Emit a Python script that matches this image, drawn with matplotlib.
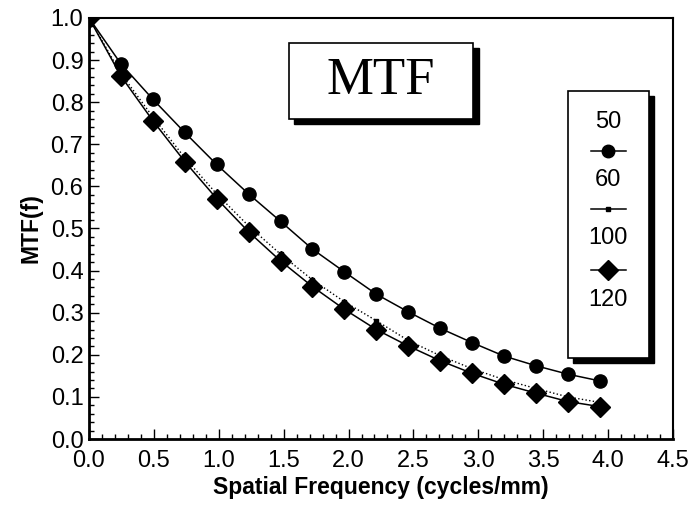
import matplotlib
matplotlib.use("Agg")
import matplotlib.pyplot as plt
from matplotlib.patches import Rectangle
from matplotlib.lines import Line2D
from matplotlib.ticker import MultipleLocator

# values
freq = [0.0, 0.246, 0.492, 0.738, 0.984, 1.23, 1.476, 1.722, 1.968, 2.214,
        2.46, 2.706, 2.952, 3.198, 3.444, 3.69, 3.936]
mtf_circle = [1.0, 0.891, 0.807, 0.728, 0.652, 0.582, 0.517, 0.451, 0.397, 0.344,
              0.302, 0.263, 0.229, 0.197, 0.174, 0.154, 0.138]
mtf_square = [1.0, 0.868, 0.765, 0.668, 0.582, 0.506, 0.439, 0.378, 0.326, 0.281,
              0.234, 0.198, 0.167, 0.141, 0.120, 0.100, 0.087]
mtf_diamond = [1.0, 0.862, 0.756, 0.659, 0.571, 0.492, 0.423, 0.362, 0.308, 0.260,
               0.221, 0.186, 0.156, 0.130, 0.109, 0.089, 0.077]
legend_labels = ["50", "60", "100", "120"]

plt.rcParams["font.family"] = ["Liberation Sans", "DejaVu Sans"]

fig = plt.figure(figsize=(6.92, 5.18), dpi=100)
ax = fig.add_axes([0.1286, 0.1525, 0.8439, 0.8128])

ax.plot(freq, mtf_circle, color="k", lw=1.1, marker="o", ms=9.5, zorder=3)
ax.plot(freq, mtf_square, color="k", lw=1.0, ls=":", marker="s", ms=3.5, zorder=3)
ax.plot(freq, mtf_diamond, color="k", lw=1.1, marker="D", ms=10, zorder=4)

ax.set_xlim(0, 4.5)
ax.set_ylim(0, 1.0)
ax.xaxis.set_major_locator(MultipleLocator(0.5))
ax.xaxis.set_minor_locator(MultipleLocator(0.1))
ax.yaxis.set_major_locator(MultipleLocator(0.1))
ax.yaxis.set_minor_locator(MultipleLocator(0.02))
ax.xaxis.set_major_formatter(plt.FormatStrFormatter("%.1f"))
ax.yaxis.set_major_formatter(plt.FormatStrFormatter("%.1f"))
ax.tick_params(which="both", direction="in", labelsize=17, width=1)
ax.tick_params(which="major", length=7)
ax.tick_params(which="minor", length=3.5)
ax.tick_params(axis="x", pad=8)
ax.tick_params(axis="y", pad=4)
ax.spines["left"].set_linewidth(2)
ax.spines["bottom"].set_linewidth(2)
ax.spines["top"].set_linewidth(1.5)
ax.spines["right"].set_linewidth(1.5)

ax.set_xlabel("Spatial Frequency (cycles/mm)", fontsize=16.5, fontweight="bold", labelpad=3)
ax.set_ylabel("MTF(f)", fontsize=16.5, fontweight="bold", labelpad=6)

# title box with drop shadow
sx, sy = 0.009, 0.012
ax.add_patch(Rectangle((0.342 + sx, 0.760 - sy), 0.316, 0.181, transform=ax.transAxes,
                       facecolor="k", edgecolor="k", zorder=5, clip_on=False))
ax.add_patch(Rectangle((0.342, 0.760), 0.316, 0.181, transform=ax.transAxes,
                       facecolor="white", edgecolor="k", lw=1.2, zorder=6, clip_on=False))
ax.text(0.50, 0.850, "MTF", transform=ax.transAxes, ha="center", va="center",
        fontsize=38, family="Liberation Serif", zorder=7)

# legend box, labels and symbols stacked
ax.add_patch(Rectangle((0.820 + sx, 0.192 - sy), 0.139, 0.635, transform=ax.transAxes,
                       facecolor="k", edgecolor="k", zorder=5))
ax.add_patch(Rectangle((0.820, 0.192), 0.139, 0.635, transform=ax.transAxes,
                       facecolor="white", edgecolor="k", lw=1.2, zorder=6))
label_y = [0.753, 0.615, 0.477, 0.330]
for lab, yy in zip(legend_labels, label_y):
    ax.text(0.889, yy, lab, transform=ax.transAxes, ha="center", va="center",
            fontsize=17, zorder=7)
symbols = [dict(marker="o", ms=9), dict(marker="s", ms=3.5), dict(marker="D", ms=10)]
symbol_y = [0.684, 0.546, 0.401]
for sym, yy in zip(symbols, symbol_y):
    ax.add_line(Line2D([0.860, 0.889, 0.920], [yy, yy, yy], transform=ax.transAxes,
                       color="k", lw=1.1, markevery=[1], zorder=7, **sym))

fig.savefig("out.png", dpi=100)
